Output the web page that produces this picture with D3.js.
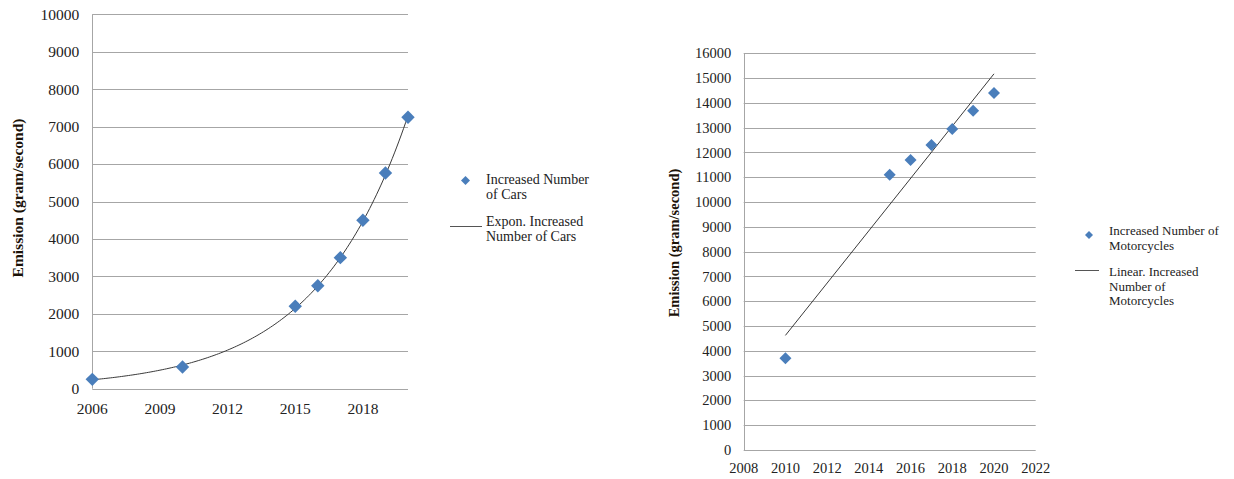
<!DOCTYPE html>
<html>
<head>
<meta charset="utf-8">
<script src="https://cdn.jsdelivr.net/npm/d3@7"></script>
<style>
  html, body { margin: 0; padding: 0; background: #fff; }
  svg { display: block; font-family: "Liberation Serif", "Times New Roman", serif; }
</style>
</head>
<body>
<svg id="chart" width="1234" height="479"></svg>
<script>
// Cars: emission by year
const carYears = [2006, 2010, 2015, 2016, 2017, 2018, 2019, 2020];
const carEmission = [250, 580, 2200, 2750, 3500, 4500, 5760, 7250];
const carXTicks = [2006, 2009, 2012, 2015, 2018];
const carYTicks = [0, 1000, 2000, 3000, 4000, 5000, 6000, 7000, 8000, 9000, 10000];

// Motorcycles: emission by year
const motoYears = [2010, 2015, 2016, 2017, 2018, 2019, 2020];
const motoEmission = [3700, 11100, 11700, 12300, 12950, 13680, 14400];
const motoXTicks = [2008, 2010, 2012, 2014, 2016, 2018, 2020, 2022];
const motoYTicks = d3.range(0, 16001, 1000);

const yTitle = "Emission (gram/second)";
const carLegend = [["Increased Number", "of Cars"], ["Expon. Increased", "Number of Cars"]];
const motoLegend = [["Increased Number of", "Motorcycles"], ["Linear. Increased", "Number of", "Motorcycles"]];

const svg = d3.select("#chart");
const gridColor = "#a6a6a6";
const markerColor = "#4a7ebb";
const trendColor = "#3a3a3a";

// least-squares line through (x, y)
function linFit(xs, ys) {
  const mx = d3.mean(xs), my = d3.mean(ys);
  let sxy = 0, sxx = 0;
  xs.forEach((x, i) => { sxy += (x - mx) * (ys[i] - my); sxx += (x - mx) * (x - mx); });
  const b = sxy / sxx;
  return { a: my - b * mx, b };
}

function drawPanel(cfg) {
  const g = svg.append("g");
  const x = d3.scaleLinear().domain(cfg.xDomain).range([cfg.left, cfg.right]);
  const y = d3.scaleLinear().domain(cfg.yDomain).range([cfg.bottom, cfg.top]);

  // horizontal gridlines
  g.selectAll(null).data(cfg.yTicks).enter().append("line")
    .attr("x1", cfg.left).attr("x2", cfg.right)
    .attr("y1", d => Math.round(y(d)) + 0.5).attr("y2", d => Math.round(y(d)) + 0.5)
    .attr("stroke", gridColor).attr("stroke-width", 1);

  // vertical axis line
  g.append("line")
    .attr("x1", Math.round(cfg.left) + 0.5).attr("x2", Math.round(cfg.left) + 0.5)
    .attr("y1", cfg.top).attr("y2", cfg.bottom)
    .attr("stroke", gridColor);

  // y tick labels
  g.selectAll(null).data(cfg.yTicks).enter().append("text")
    .attr("x", cfg.left - cfg.yLabelGap).attr("y", d => y(d))
    .attr("dy", "0.35em").attr("text-anchor", "end")
    .attr("font-size", cfg.tickSize).attr("fill", "#222")
    .text(d => d);

  // x tick labels
  g.selectAll(null).data(cfg.xTicks).enter().append("text")
    .attr("x", d => x(d)).attr("y", cfg.bottom + cfg.xLabelGap)
    .attr("dy", "0.35em").attr("text-anchor", "middle")
    .attr("font-size", cfg.tickSize).attr("fill", "#222")
    .text(d => d);

  // y axis title
  g.append("text")
    .attr("transform", `translate(${cfg.titleX},${cfg.titleY}) rotate(-90)`)
    .attr("text-anchor", "middle").attr("dy", "0.35em")
    .attr("font-size", cfg.titleSize).attr("font-weight", "bold").attr("fill", "#1a1208")
    .text(yTitle);

  // trendline
  const line = d3.line().x(d => x(d[0])).y(d => y(d[1]));
  g.append("path").datum(cfg.trend)
    .attr("d", line).attr("fill", "none")
    .attr("stroke", trendColor).attr("stroke-width", 1);

  // data markers (diamonds)
  const sym = d3.symbol().type(d3.symbolSquare).size(cfg.markerSize);
  g.selectAll(null).data(cfg.xs.map((v, i) => [v, cfg.ys[i]])).enter().append("path")
    .attr("d", sym)
    .attr("transform", d => `translate(${x(d[0])},${y(d[1])}) rotate(45)`)
    .attr("fill", markerColor);

  // legend
  const L = cfg.legend;
  const lg = g.append("g").attr("font-size", L.size).attr("fill", "#222");
  lg.append("path")
    .attr("d", d3.symbol().type(d3.symbolSquare).size(L.markerSize))
    .attr("transform", `translate(${L.markerX},${L.markerY}) rotate(45)`)
    .attr("fill", markerColor);
  lg.append("line")
    .attr("x1", L.lineX1).attr("x2", L.lineX2)
    .attr("y1", L.lineY + 0.5).attr("y2", L.lineY + 0.5)
    .attr("stroke", "#555").attr("stroke-width", 1);
  cfg.legendText.forEach((lines, k) => {
    lines.forEach((t, j) => {
      lg.append("text")
        .attr("x", L.textX).attr("y", L.textY[k] + j * L.lh)
        .attr("dy", "0.35em").text(t);
    });
  });
}

// exponential trend for cars: regression on ln(y)
const carFit = linFit(carYears, carEmission.map(Math.log));
const carTrend = d3.range(2006, 2020.001, 0.1).map(t => [t, Math.exp(carFit.a + carFit.b * t)]);

// linear trend for motorcycles
const motoFit = linFit(motoYears, motoEmission);
const motoTrend = [2010, 2020].map(t => [t, motoFit.a + motoFit.b * t]);

drawPanel({
  xDomain: [2006, 2020], yDomain: [0, 10000],
  left: 92.3, right: 408, top: 14.3, bottom: 388.7,
  xTicks: carXTicks, yTicks: carYTicks,
  tickSize: 15.5, yLabelGap: 13, xLabelGap: 20,
  titleX: 18, titleY: 198, titleSize: 15.5,
  xs: carYears, ys: carEmission, trend: carTrend, markerSize: 90,
  legendText: carLegend,
  legend: { size: 14, markerSize: 40, markerX: 465.5, markerY: 180.5,
            lineX1: 450, lineX2: 482, lineY: 226,
            textX: 486, textY: [179, 221], lh: 15.5 }
});

drawPanel({
  xDomain: [2008, 2022], yDomain: [0, 16000],
  left: 743.7, right: 1035.7, top: 53.3, bottom: 450,
  xTicks: motoXTicks, yTicks: motoYTicks,
  tickSize: 14.5, yLabelGap: 12.5, xLabelGap: 18,
  titleX: 674, titleY: 243, titleSize: 14.5,
  xs: motoYears, ys: motoEmission, trend: motoTrend, markerSize: 72,
  legendText: motoLegend,
  legend: { size: 13, markerSize: 32, markerX: 1089, markerY: 235,
            lineX1: 1075, lineX2: 1099, lineY: 270,
            textX: 1109, textY: [230.5, 271.5], lh: 14.5 }
});
</script>
</body>
</html>
